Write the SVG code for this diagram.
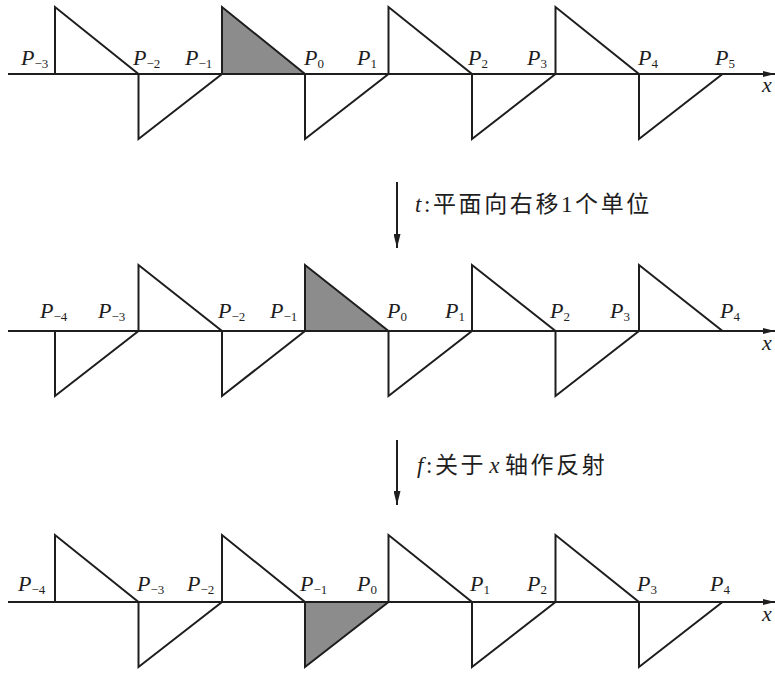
<svg xmlns="http://www.w3.org/2000/svg" width="775" height="673" viewBox="0 0 775 673">
<style>
.tri{fill:#fff;stroke:#1e1e1e;stroke-width:2;stroke-linejoin:miter}
.sh{fill:#8c8c8c}
.ax{stroke:#1e1e1e;stroke-width:2;fill:none}
.lbl{font-family:"Liberation Serif",serif;font-style:italic;font-size:22px;fill:#1e1e1e}
.sub{font-style:normal;font-size:13px}
.cap{font-family:"Liberation Serif","Noto Sans CJK SC",sans-serif;font-size:23px;fill:#1e1e1e;letter-spacing:2.6px}
.xl{font-family:"Liberation Serif",serif;font-style:italic;font-size:22px;fill:#1e1e1e}
</style>
<defs>
<marker id="ah" viewBox="0 0 12 6" refX="12" refY="3" markerWidth="12" markerHeight="6" markerUnits="userSpaceOnUse" orient="auto">
<path d="M0,0 L12,3 L0,6 Z" fill="#1e1e1e"/>
</marker>
<marker id="av" viewBox="0 0 7 14" refX="3.5" refY="14" markerWidth="7" markerHeight="14" markerUnits="userSpaceOnUse" orient="0">
<path d="M0,0 L3.5,14 L7,0 Z" fill="#1e1e1e"/>
</marker>
</defs>
<rect width="775" height="673" fill="#fff"/>

<!-- Row 1 -->
<g id="row1">
<line class="ax" x1="8" y1="74" x2="775" y2="74" marker-end="url(#ah)"/>
<g id="r1-t0"><polygon class="tri" points="55,74 55,7 138.5,74"/></g>
<g id="r1-t1"><polygon class="tri" points="138.5,74 138.5,139 222,74"/></g>
<g id="r1-t2"><polygon class="tri sh" points="222,74 222,7 305,74"/></g>
<g id="r1-t3"><polygon class="tri" points="305,74 305,139 388.5,74"/></g>
<g id="r1-t4"><polygon class="tri" points="388.5,74 388.5,7 472,74"/></g>
<g id="r1-t5"><polygon class="tri" points="472,74 472,139 555.5,74"/></g>
<g id="r1-t6"><polygon class="tri" points="555.5,74 555.5,7 639,74"/></g>
<g id="r1-t7"><polygon class="tri" points="639,74 639,139 722.5,74"/></g>
<text class="lbl" x="21" y="65">P<tspan class="sub" dy="3">−3</tspan></text>
<text class="lbl" x="133" y="65">P<tspan class="sub" dy="3">−2</tspan></text>
<text class="lbl" x="185" y="65">P<tspan class="sub" dy="3">−1</tspan></text>
<text class="lbl" x="304" y="65">P<tspan class="sub" dy="3">0</tspan></text>
<text class="lbl" x="357" y="65">P<tspan class="sub" dy="3">1</tspan></text>
<text class="lbl" x="468" y="65">P<tspan class="sub" dy="3">2</tspan></text>
<text class="lbl" x="527" y="65">P<tspan class="sub" dy="3">3</tspan></text>
<text class="lbl" x="638" y="65">P<tspan class="sub" dy="3">4</tspan></text>
<text class="lbl" x="715" y="65">P<tspan class="sub" dy="3">5</tspan></text>
<text class="xl" x="762" y="92">x</text>
</g>

<!-- Row 2 -->
<g id="row2">
<line class="ax" x1="8" y1="331" x2="775" y2="331" marker-end="url(#ah)"/>
<g id="r2-t0"><polygon class="tri" points="55,331 55,396 138.5,331"/></g>
<g id="r2-t1"><polygon class="tri" points="138.5,331 138.5,265 222,331"/></g>
<g id="r2-t2"><polygon class="tri" points="222,331 222,396 305,331"/></g>
<g id="r2-t3"><polygon class="tri sh" points="305,331 305,265 388.5,331"/></g>
<g id="r2-t4"><polygon class="tri" points="388.5,331 388.5,396 472,331"/></g>
<g id="r2-t5"><polygon class="tri" points="472,331 472,265 555.5,331"/></g>
<g id="r2-t6"><polygon class="tri" points="555.5,331 555.5,396 639,331"/></g>
<g id="r2-t7"><polygon class="tri" points="639,331 639,265 722.5,331"/></g>
<text class="lbl" x="40" y="318">P<tspan class="sub" dy="3">−4</tspan></text>
<text class="lbl" x="98" y="318">P<tspan class="sub" dy="3">−3</tspan></text>
<text class="lbl" x="218" y="318">P<tspan class="sub" dy="3">−2</tspan></text>
<text class="lbl" x="270" y="318">P<tspan class="sub" dy="3">−1</tspan></text>
<text class="lbl" x="387" y="318">P<tspan class="sub" dy="3">0</tspan></text>
<text class="lbl" x="445" y="318">P<tspan class="sub" dy="3">1</tspan></text>
<text class="lbl" x="550" y="318">P<tspan class="sub" dy="3">2</tspan></text>
<text class="lbl" x="610" y="318">P<tspan class="sub" dy="3">3</tspan></text>
<text class="lbl" x="720" y="318">P<tspan class="sub" dy="3">4</tspan></text>
<text class="xl" x="762" y="350">x</text>
</g>

<!-- Row 3 -->
<g id="row3">
<line class="ax" x1="8" y1="602" x2="775" y2="602" marker-end="url(#ah)"/>
<g id="r3-t0"><polygon class="tri" points="55,602 55,535 138.5,602"/></g>
<g id="r3-t1"><polygon class="tri" points="138.5,602 138.5,667 222,602"/></g>
<g id="r3-t2"><polygon class="tri" points="222,602 222,535 305,602"/></g>
<g id="r3-t3"><polygon class="tri sh" points="305,602 305,667 388.5,602"/></g>
<g id="r3-t4"><polygon class="tri" points="388.5,602 388.5,535 472,602"/></g>
<g id="r3-t5"><polygon class="tri" points="472,602 472,667 555.5,602"/></g>
<g id="r3-t6"><polygon class="tri" points="555.5,602 555.5,535 639,602"/></g>
<g id="r3-t7"><polygon class="tri" points="639,602 639,667 722.5,602"/></g>
<text class="lbl" x="18" y="591">P<tspan class="sub" dy="3">−4</tspan></text>
<text class="lbl" x="137" y="591">P<tspan class="sub" dy="3">−3</tspan></text>
<text class="lbl" x="187" y="591">P<tspan class="sub" dy="3">−2</tspan></text>
<text class="lbl" x="300" y="591">P<tspan class="sub" dy="3">−1</tspan></text>
<text class="lbl" x="357" y="591">P<tspan class="sub" dy="3">0</tspan></text>
<text class="lbl" x="470" y="591">P<tspan class="sub" dy="3">1</tspan></text>
<text class="lbl" x="527" y="591">P<tspan class="sub" dy="3">2</tspan></text>
<text class="lbl" x="637" y="591">P<tspan class="sub" dy="3">3</tspan></text>
<text class="lbl" x="710" y="591">P<tspan class="sub" dy="3">4</tspan></text>
<text class="xl" x="762" y="621">x</text>
</g>

<!-- Connectors -->
<g id="connectors">
<line class="ax" x1="397" y1="182" x2="397" y2="248" stroke-width="1.6" marker-end="url(#av)"/>
<line class="ax" x1="397" y1="440" x2="397" y2="505" stroke-width="1.6" marker-end="url(#av)"/>
</g>
<text class="cap" x="415" y="212"><tspan font-style="italic">t</tspan>:平面向右移1个单位</text>
<text class="cap" x="417" y="473"><tspan font-style="italic">f</tspan>:关于<tspan font-style="italic" dx="3">x</tspan><tspan dx="3">轴作反射</tspan></text>
</svg>
